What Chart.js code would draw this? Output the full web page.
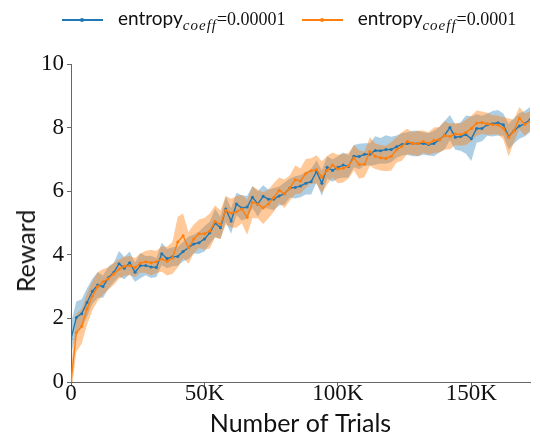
<!DOCTYPE html>
<html>
<head>
<meta charset="utf-8">
<script src="https://cdn.jsdelivr.net/npm/chart.js@4"></script>
<style>
  html, body { margin: 0; padding: 0; background: #fff; }
  #wrap { position: relative; width: 540px; height: 445px; }
  #legend { position: absolute; top: 6px; left: 62px; display: flex; align-items: center; white-space: nowrap; }
  .item { display: flex; align-items: center; margin-right: 16px; }
  .swatch { position: relative; width: 41px; height: 1.5px; margin-right: 15px; }
  .swatch span { position: absolute; left: 18px; top: -1.5px; width: 4px; height: 4px; border-radius: 2px; }
  .lab { font-family: Lato, "Open Sans", sans-serif; font-size: 19px; color: #111; }
  .lab sub { font-family: "Liberation Serif", serif; font-style: italic; font-size: 15px; letter-spacing: 1px; }
  .lab .num { font-family: "Liberation Serif", serif; font-size: 18px; }
  #ytitle { position: absolute; left: 25px; top: 251px; transform: translate(-50%, -50%) rotate(-90deg);
    font-family: Lato, sans-serif; font-size: 25px; color: #111; white-space: nowrap; }
</style>
</head>
<body>
<div id="wrap">
  <canvas id="chart" width="540" height="445"></canvas>
  <div id="legend">
    <div class="item"><div class="swatch" style="background:#1f77b4"><span style="background:#1f77b4"></span></div>
      <div class="lab">entropy<sub>coeff</sub><span class="num">=0.00001</span></div></div>
    <div class="item"><div class="swatch" style="background:#ff7f0e"><span style="background:#ff7f0e"></span></div>
      <div class="lab">entropy<sub>coeff</sub><span class="num">=0.0001</span></div></div>
  </div>
  <div id="ytitle">Reward</div>
</div>
<script>
// trials in thousands
const trialsK = [0,2,4,6,8,10,12,14,16,18,20,22,24,26,28,30,32,34,36,38,40,42,44,46,48,50,52,54,56,58,
  60,62,64,66,68,70,72,74,76,78,80,82,84,86,88,90,92,94,96,98,100,102,104,106,108,110,112,114,116,118,
  120,122,124,126,128,130,132,134,136,138,140,142,144,146,148,150,152,154,156,158,160,162,164,166,168,170,172]

const rewardSmall = [1.35,2.03,2.15,2.5,2.85,3.05,3.0,3.28,3.44,3.72,3.58,3.75,3.45,3.66,3.66,3.62,3.6,4.03,3.88,3.94,
  3.95,4.1,4.22,4.34,4.38,4.5,4.69,5.0,4.85,5.44,5.06,5.6,5.47,5.5,5.81,5.6,5.84,5.75,5.75,5.85,
  5.92,6.1,6.12,6.16,6.25,6.3,6.62,6.25,6.75,6.65,6.75,6.82,6.78,7.1,7.09,7.16,7.16,7.28,7.27,7.31,
  7.31,7.4,7.47,7.5,7.5,7.5,7.5,7.47,7.5,7.62,7.76,8.0,7.7,7.72,7.78,7.65,7.97,7.97,8.09,8.12,
  8.15,8.09,7.72,7.9,8.05,8.12,8.25]
const spreadSmall = [0.5,0.5,0.45,0.45,0.4,0.4,0.35,0.35,0.3,0.4,0.35,0.35,0.3,0.4,0.3,0.35,0.3,0.35,0.3,0.3,
  0.3,0.3,0.35,0.3,0.35,0.4,0.35,0.45,0.35,0.4,0.4,0.35,0.4,0.35,0.35,0.4,0.35,0.3,0.35,0.3,
  0.35,0.3,0.35,0.35,0.35,0.4,0.35,0.4,0.35,0.35,0.35,0.4,0.35,0.35,0.4,0.35,0.35,0.45,0.4,0.45,
  0.4,0.35,0.35,0.35,0.4,0.4,0.35,0.35,0.4,0.4,0.45,0.4,0.4,0.45,0.6,0.7,0.45,0.4,0.35,0.4,
  0.4,0.35,0.4,0.4,0.4,0.4,0.4]

const rewardLarge = [0.0,1.55,1.75,2.3,2.7,3.0,3.15,3.25,3.4,3.55,3.64,3.66,3.6,3.74,3.78,3.75,3.78,3.87,3.8,3.9,
  4.4,4.6,4.22,4.5,4.66,4.66,4.75,5.05,4.95,5.4,5.31,5.35,5.44,5.18,5.65,5.6,5.47,5.6,5.8,6.03,
  5.92,6.1,6.36,6.32,6.56,6.64,6.68,6.44,6.66,6.82,6.7,6.72,6.8,7.05,6.84,6.85,7.25,7.1,7.05,7.03,
  7.1,7.3,7.41,7.56,7.5,7.5,7.56,7.5,7.6,7.62,7.75,7.72,7.8,7.78,7.85,7.97,8.14,8.16,8.12,8.09,
  8.08,7.98,7.69,7.9,8.3,8.1,8.2]
const spreadLarge = [0.4,0.6,0.55,0.5,0.45,0.45,0.4,0.35,0.35,0.3,0.3,0.3,0.3,0.3,0.35,0.4,0.35,0.4,0.45,0.5,
  0.8,0.7,0.5,0.45,0.45,0.5,0.55,0.5,0.45,0.45,0.45,0.5,0.45,0.55,0.5,0.45,0.5,0.45,0.45,0.4,
  0.45,0.4,0.45,0.4,0.45,0.4,0.45,0.5,0.45,0.4,0.45,0.45,0.4,0.4,0.45,0.4,0.45,0.4,0.4,0.4,
  0.45,0.4,0.45,0.4,0.35,0.4,0.35,0.35,0.4,0.4,0.45,0.4,0.35,0.35,0.4,0.4,0.4,0.35,0.35,0.3,
  0.3,0.35,0.6,0.35,0.35,0.35,0.3]

const xTicks = [0, 50000, 100000, 150000]
const xTickLabels = ['0', '50K', '100K', '150K']

const pts = (vals, off, sign) => vals.map((v, i) => ({ x: trialsK[i] * 1000, y: v + (off ? sign * off[i] : 0) }))

const line = (vals, color, order) => ({
  data: pts(vals),
  borderColor: color,
  backgroundColor: color,
  borderWidth: 1.4,
  pointRadius: 1.5,
  pointBorderWidth: 0,
  tension: 0,
  fill: false,
  order: order
})
const band = (vals, spread, sign, color, fill, order) => ({
  data: pts(vals, spread, sign),
  borderWidth: 0,
  borderColor: 'transparent',
  pointRadius: 0,
  backgroundColor: color,
  fill: fill,
  order: order
})

const axisColor = '#666'

new Chart(document.getElementById('chart'), {
  type: 'line',
  data: {
    datasets: [
      band(rewardSmall, spreadSmall, -1, 'rgba(31,119,180,0.36)', false, 4),
      band(rewardSmall, spreadSmall, 1, 'rgba(31,119,180,0.36)', '-1', 4),
      band(rewardLarge, spreadLarge, -1, 'rgba(255,127,14,0.42)', false, 3),
      band(rewardLarge, spreadLarge, 1, 'rgba(255,127,14,0.42)', '-1', 3),
      line(rewardSmall, '#1f77b4', 2),
      line(rewardLarge, '#ff7f0e', 1)
    ]
  },
  options: {
    responsive: false,
    animation: false,
    layout: { padding: { top: 64, right: 10, left: 0, bottom: 6 } },
    plugins: { legend: { display: false }, tooltip: { enabled: false } },
    scales: {
      x: {
        type: 'linear',
        min: 0,
        max: 172000,
        afterBuildTicks: (s) => { s.ticks = xTicks.map(v => ({ value: v })) },
        ticks: {
          callback: (v) => xTickLabels[xTicks.indexOf(v)],
          font: { family: 'Liberation Serif', size: 23 },
          color: '#111',
          padding: -6,
          maxRotation: 0
        },
        grid: { drawOnChartArea: false, tickLength: 4, color: axisColor },
        border: { color: axisColor },
        title: {
          display: true,
          text: 'Number of Trials',
          font: { family: 'Lato', size: 25 },
          color: '#111',
          padding: { top: 0, bottom: 0 }
        },
        afterFit: (s) => { s.height = 57 }
      },
      y: {
        min: 0,
        max: 10,
        ticks: {
          stepSize: 2,
          font: { family: 'Liberation Serif', size: 23 },
          color: '#111',
          padding: 3
        },
        grid: { drawOnChartArea: false, tickLength: 4, color: axisColor },
        border: { color: axisColor },
        afterFit: (s) => { s.width = 71 }
      }
    }
  }
})
</script>
</body>
</html>
